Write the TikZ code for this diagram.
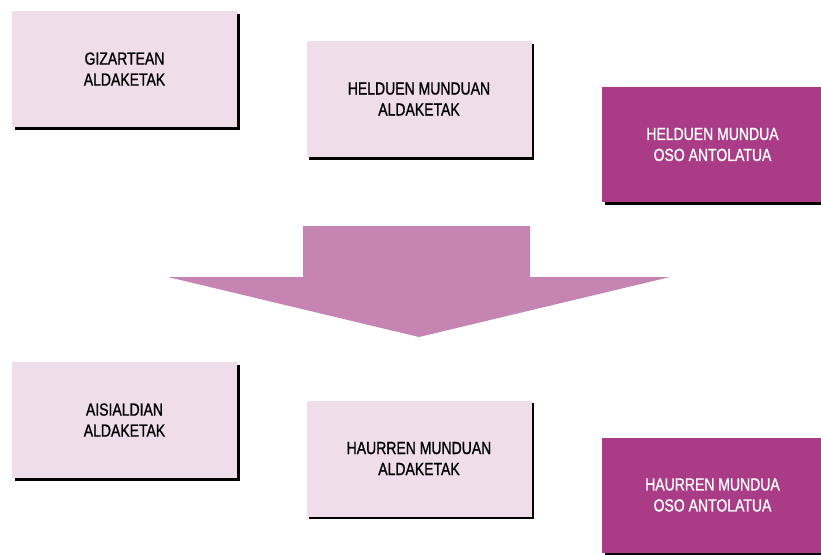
\documentclass[tikz,border=0pt]{standalone}
\usepackage{fontspec}
\setmainfont{Liberation Sans}[FakeStretch=0.8, FakeBold=1]
\usepackage{tikz}
\usetikzlibrary{shadows}
\usepackage{xcolor}
\definecolor{boxpink}{HTML}{EFDDE9}
\definecolor{boxpurple}{HTML}{A93B87}
\definecolor{arrowpink}{HTML}{C584B2}

\begin{document}
\begin{tikzpicture}[x=1pt, y=-1pt,
    change/.style={fill=boxpink, text=black, minimum width=225pt, minimum height=116pt, align=center,
        font=\fontsize{17.5}{21}\selectfont,
        drop shadow={shadow xshift=2.5pt, shadow yshift=-2.5pt, fill=black, opacity=1}},
    world/.style={change, fill=boxpurple, text=white, minimum width=221pt, minimum height=115pt}]
    \useasboundingbox (0,0) rectangle (821,554);

    \node[change] (society) at (124.5,69) {GIZARTEAN\\ALDAKETAK};
    \node[change] (adults) at (419,99) {HELDUEN MUNDUAN\\ALDAKETAK};
    \node[world] (adultworld) at (712.5,144.5) {HELDUEN MUNDUA\\OSO ANTOLATUA};

    \fill[arrowpink] (303,226) -- (530,226) -- (530,277) -- (670,277) -- (419,337) -- (168,277) -- (303,277) -- cycle;

    \node[change] (leisure) at (124.5,420) {AISIALDIAN\\ALDAKETAK};
    \node[change] (children) at (419,458.5) {HAURREN MUNDUAN\\ALDAKETAK};
    \node[world] (childworld) at (712.5,495) {HAURREN MUNDUA\\OSO ANTOLATUA};
\end{tikzpicture}
\end{document}
